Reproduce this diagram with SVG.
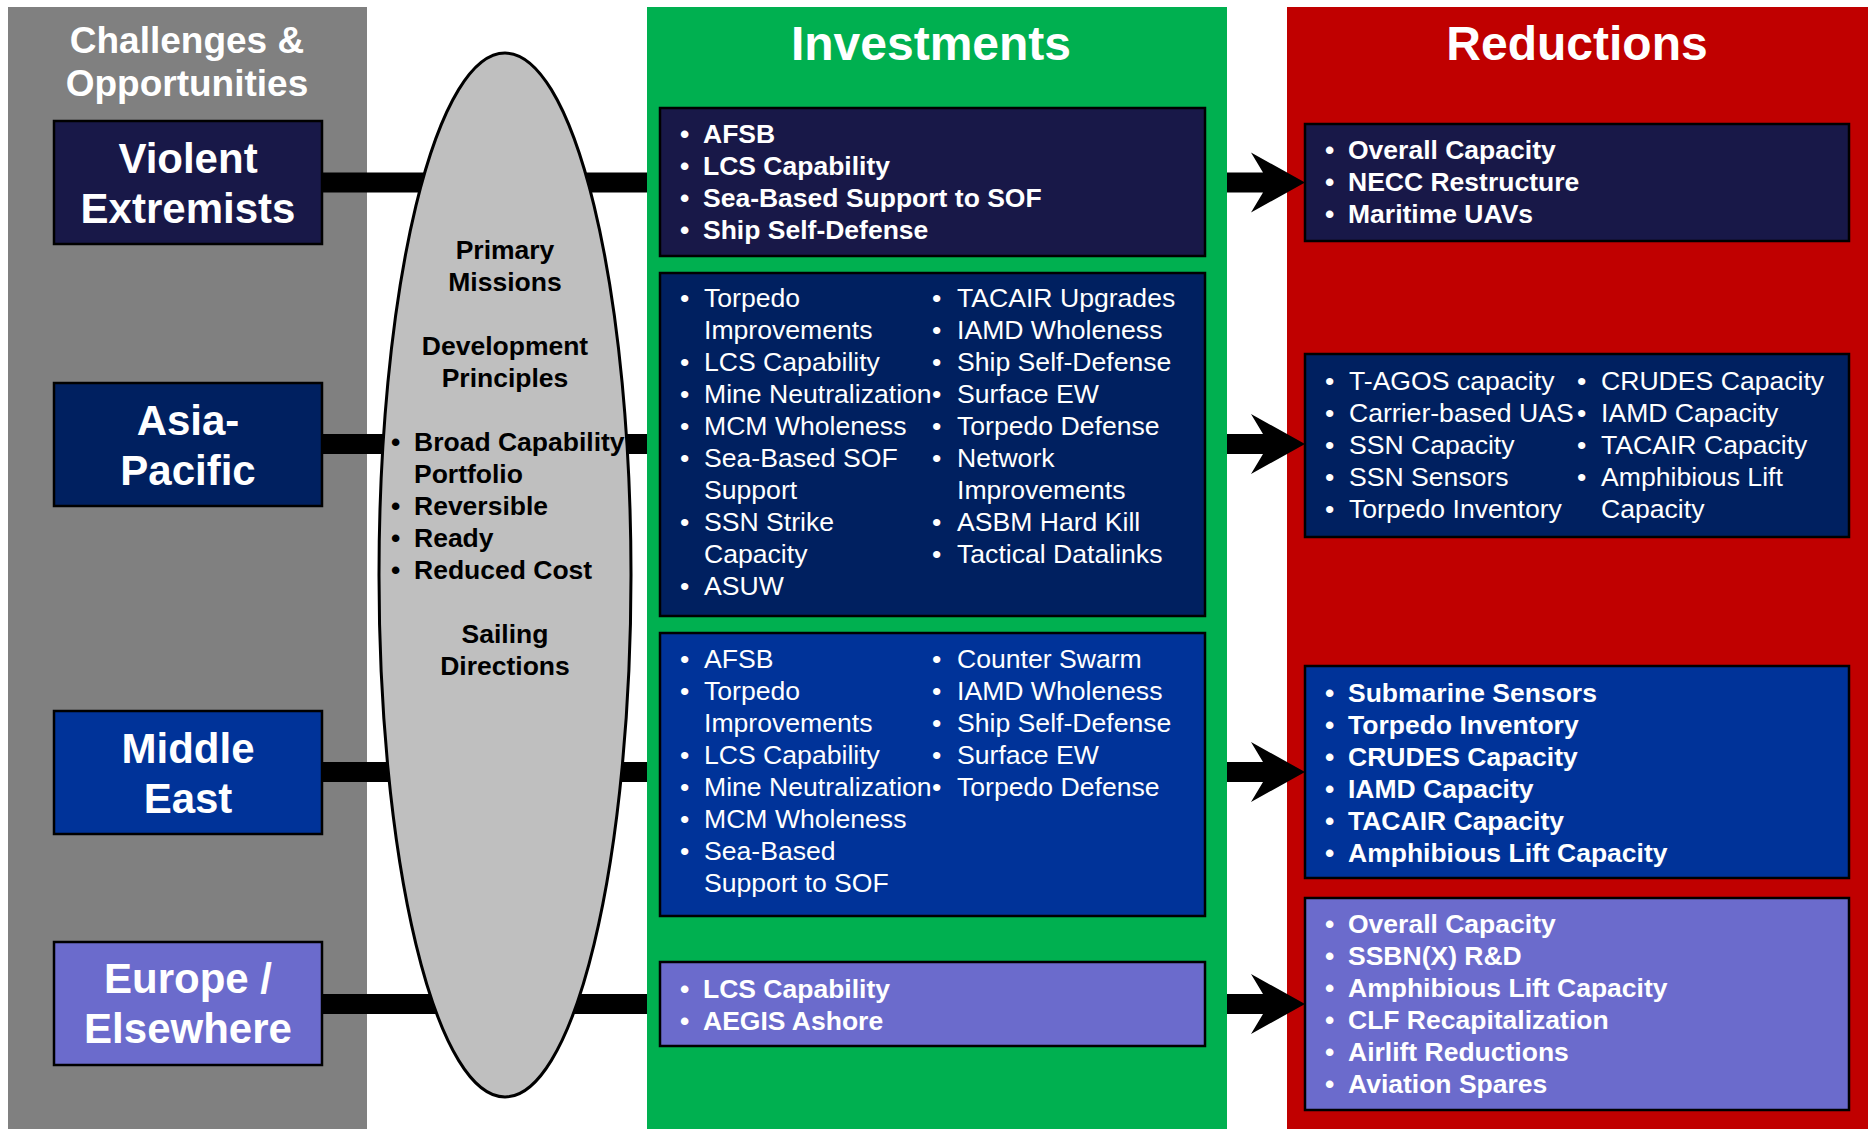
<svg xmlns="http://www.w3.org/2000/svg" width="1868" height="1129" viewBox="0 0 1868 1129">
<style>
text{font-family:"Liberation Sans",Arial,Helvetica,sans-serif;}
.col-title{font-size:48px;font-weight:bold;fill:#fff;text-anchor:middle;}
.sub-title{font-size:37px;font-weight:bold;fill:#fff;text-anchor:middle;}
.reg{font-size:42px;font-weight:bold;fill:#fff;text-anchor:middle;}
.ell{font-size:26.5px;font-weight:bold;fill:#000;}
.ellc{font-size:26.5px;font-weight:bold;fill:#000;text-anchor:middle;}
.b{font-size:26.5px;font-weight:bold;fill:#fff;}
.r{font-size:26.6px;font-weight:normal;fill:#fff;}
.box{stroke:#000;stroke-width:2.5;}
.navy{fill:#181848;}
.dblue{fill:#002060;}
.mblue{fill:#003399;}
.lav{fill:#6B6BCC;}
.bar{fill:#000;}
</style>
<defs>
<path id="arrowR" d="M0,-10 L36,-10 L24,-30 L78,0 L24,30 L36,10 L0,10 Z"/>
</defs>
<rect width="1868" height="1129" fill="#fff"/>
<g id="columns">
<rect x="8" y="7" width="359" height="1122" fill="#808080"/>
<rect x="647" y="7" width="580" height="1122" fill="#00B050"/>
<rect x="1287" y="7" width="581" height="1122" fill="#C00000"/>
<text class="sub-title" x="187" y="53">Challenges &amp;</text>
<text class="sub-title" x="187" y="96">Opportunities</text>
<text class="col-title" x="931" y="60">Investments</text>
<text class="col-title" x="1577" y="60">Reductions</text>
</g>
<g id="connectors">
<rect class="bar" x="320" y="172.5" width="327" height="20"/>
<rect class="bar" x="320" y="434" width="327" height="20"/>
<rect class="bar" x="320" y="762" width="327" height="20"/>
<rect class="bar" x="320" y="994" width="327" height="20"/>
<use href="#arrowR" x="1227" y="182.5"/>
<use href="#arrowR" x="1227" y="444"/>
<use href="#arrowR" x="1227" y="772"/>
<use href="#arrowR" x="1227" y="1004"/>
</g>
<g id="core-ellipse">
<ellipse cx="505" cy="575" rx="126" ry="522" fill="#BFBFBF" stroke="#000" stroke-width="3"/>
<text class="ellc" x="505" y="259">Primary</text>
<text class="ellc" x="505" y="291">Missions</text>
<text class="ellc" x="505" y="355">Development</text>
<text class="ellc" x="505" y="387">Principles</text>
<text class="ell" x="391" y="451">•</text><text class="ell" x="414" y="451">Broad Capability</text>
<text class="ell" x="414" y="483">Portfolio</text>
<text class="ell" x="391" y="515">•</text><text class="ell" x="414" y="515">Reversible</text>
<text class="ell" x="391" y="547">•</text><text class="ell" x="414" y="547">Ready</text>
<text class="ell" x="391" y="579">•</text><text class="ell" x="414" y="579">Reduced Cost</text>
<text class="ellc" x="505" y="643">Sailing</text>
<text class="ellc" x="505" y="675">Directions</text>
</g>
<g id="region-violent-extremists">
<rect class="box navy" x="54" y="121" width="268" height="123"/>
<text class="reg" x="188" y="173">Violent</text>
<text class="reg" x="188" y="223">Extremists</text>
</g>
<g id="region-asia-pacific">
<rect class="box dblue" x="54" y="383" width="268" height="123"/>
<text class="reg" x="188" y="435">Asia-</text>
<text class="reg" x="188" y="485">Pacific</text>
</g>
<g id="region-middle-east">
<rect class="box mblue" x="54" y="711" width="268" height="123"/>
<text class="reg" x="188" y="763">Middle</text>
<text class="reg" x="188" y="813">East</text>
</g>
<g id="region-europe">
<rect class="box lav" x="54" y="942" width="268" height="123"/>
<text class="reg" x="188" y="993">Europe /</text>
<text class="reg" x="188" y="1043">Elsewhere</text>
</g>
<g id="inv-violent-extremists">
<rect class="box navy" x="660" y="108" width="545" height="148"/>
<text class="b" x="680" y="143">•</text><text class="b" x="703" y="143">AFSB</text>
<text class="b" x="680" y="175">•</text><text class="b" x="703" y="175">LCS Capability</text>
<text class="b" x="680" y="207">•</text><text class="b" x="703" y="207">Sea-Based Support to SOF</text>
<text class="b" x="680" y="239">•</text><text class="b" x="703" y="239">Ship Self-Defense</text>
</g>
<g id="inv-asia-pacific">
<rect class="box dblue" x="660" y="273" width="545" height="343"/>
<text class="r" x="680" y="307">•</text><text class="r" x="704" y="307">Torpedo</text>
<text class="r" x="704" y="339">Improvements</text>
<text class="r" x="680" y="371">•</text><text class="r" x="704" y="371">LCS Capability</text>
<text class="r" x="680" y="403">•</text><text class="r" x="704" y="403">Mine Neutralization</text>
<text class="r" x="680" y="435">•</text><text class="r" x="704" y="435">MCM Wholeness</text>
<text class="r" x="680" y="467">•</text><text class="r" x="704" y="467">Sea-Based SOF</text>
<text class="r" x="704" y="499">Support</text>
<text class="r" x="680" y="531">•</text><text class="r" x="704" y="531">SSN Strike</text>
<text class="r" x="704" y="563">Capacity</text>
<text class="r" x="680" y="595">•</text><text class="r" x="704" y="595">ASUW</text>
<text class="r" x="932" y="307">•</text><text class="r" x="957" y="307">TACAIR Upgrades</text>
<text class="r" x="932" y="339">•</text><text class="r" x="957" y="339">IAMD Wholeness</text>
<text class="r" x="932" y="371">•</text><text class="r" x="957" y="371">Ship Self-Defense</text>
<text class="r" x="932" y="403">•</text><text class="r" x="957" y="403">Surface EW</text>
<text class="r" x="932" y="435">•</text><text class="r" x="957" y="435">Torpedo Defense</text>
<text class="r" x="932" y="467">•</text><text class="r" x="957" y="467">Network</text>
<text class="r" x="957" y="499">Improvements</text>
<text class="r" x="932" y="531">•</text><text class="r" x="957" y="531">ASBM Hard Kill</text>
<text class="r" x="932" y="563">•</text><text class="r" x="957" y="563">Tactical Datalinks</text>
</g>
<g id="inv-middle-east">
<rect class="box mblue" x="660" y="633" width="545" height="283"/>
<text class="r" x="680" y="668">•</text><text class="r" x="704" y="668">AFSB</text>
<text class="r" x="680" y="700">•</text><text class="r" x="704" y="700">Torpedo</text>
<text class="r" x="704" y="732">Improvements</text>
<text class="r" x="680" y="764">•</text><text class="r" x="704" y="764">LCS Capability</text>
<text class="r" x="680" y="796">•</text><text class="r" x="704" y="796">Mine Neutralization</text>
<text class="r" x="680" y="828">•</text><text class="r" x="704" y="828">MCM Wholeness</text>
<text class="r" x="680" y="860">•</text><text class="r" x="704" y="860">Sea-Based</text>
<text class="r" x="704" y="892">Support to SOF</text>
<text class="r" x="932" y="668">•</text><text class="r" x="957" y="668">Counter Swarm</text>
<text class="r" x="932" y="700">•</text><text class="r" x="957" y="700">IAMD Wholeness</text>
<text class="r" x="932" y="732">•</text><text class="r" x="957" y="732">Ship Self-Defense</text>
<text class="r" x="932" y="764">•</text><text class="r" x="957" y="764">Surface EW</text>
<text class="r" x="932" y="796">•</text><text class="r" x="957" y="796">Torpedo Defense</text>
</g>
<g id="inv-europe">
<rect class="box lav" x="660" y="962" width="545" height="84"/>
<text class="b" x="680" y="998">•</text><text class="b" x="703" y="998">LCS Capability</text>
<text class="b" x="680" y="1030">•</text><text class="b" x="703" y="1030">AEGIS Ashore</text>
</g>
<g id="red-violent-extremists">
<rect class="box navy" x="1305" y="124" width="544" height="117"/>
<text class="b" x="1325" y="159">•</text><text class="b" x="1348" y="159">Overall Capacity</text>
<text class="b" x="1325" y="191">•</text><text class="b" x="1348" y="191">NECC Restructure</text>
<text class="b" x="1325" y="223">•</text><text class="b" x="1348" y="223">Maritime UAVs</text>
</g>
<g id="red-asia-pacific">
<rect class="box dblue" x="1305" y="354" width="544" height="183"/>
<text class="r" x="1325" y="390">•</text><text class="r" x="1349" y="390">T-AGOS capacity</text>
<text class="r" x="1325" y="422">•</text><text class="r" x="1349" y="422">Carrier-based UAS</text>
<text class="r" x="1325" y="454">•</text><text class="r" x="1349" y="454">SSN Capacity</text>
<text class="r" x="1325" y="486">•</text><text class="r" x="1349" y="486">SSN Sensors</text>
<text class="r" x="1325" y="518">•</text><text class="r" x="1349" y="518">Torpedo Inventory</text>
<text class="r" x="1577" y="390">•</text><text class="r" x="1601" y="390">CRUDES Capacity</text>
<text class="r" x="1577" y="422">•</text><text class="r" x="1601" y="422">IAMD Capacity</text>
<text class="r" x="1577" y="454">•</text><text class="r" x="1601" y="454">TACAIR Capacity</text>
<text class="r" x="1577" y="486">•</text><text class="r" x="1601" y="486">Amphibious Lift</text>
<text class="r" x="1601" y="518">Capacity</text>
</g>
<g id="red-middle-east">
<rect class="box mblue" x="1305" y="666" width="544" height="212"/>
<text class="b" x="1325" y="702">•</text><text class="b" x="1348" y="702">Submarine Sensors</text>
<text class="b" x="1325" y="734">•</text><text class="b" x="1348" y="734">Torpedo Inventory</text>
<text class="b" x="1325" y="766">•</text><text class="b" x="1348" y="766">CRUDES Capacity</text>
<text class="b" x="1325" y="798">•</text><text class="b" x="1348" y="798">IAMD Capacity</text>
<text class="b" x="1325" y="830">•</text><text class="b" x="1348" y="830">TACAIR Capacity</text>
<text class="b" x="1325" y="862">•</text><text class="b" x="1348" y="862">Amphibious Lift Capacity</text>
</g>
<g id="red-europe">
<rect class="box lav" x="1305" y="898" width="544" height="212"/>
<text class="b" x="1325" y="933">•</text><text class="b" x="1348" y="933">Overall Capacity</text>
<text class="b" x="1325" y="965">•</text><text class="b" x="1348" y="965">SSBN(X) R&amp;D</text>
<text class="b" x="1325" y="997">•</text><text class="b" x="1348" y="997">Amphibious Lift Capacity</text>
<text class="b" x="1325" y="1029">•</text><text class="b" x="1348" y="1029">CLF Recapitalization</text>
<text class="b" x="1325" y="1061">•</text><text class="b" x="1348" y="1061">Airlift Reductions</text>
<text class="b" x="1325" y="1093">•</text><text class="b" x="1348" y="1093">Aviation Spares</text>
</g>
</svg>
